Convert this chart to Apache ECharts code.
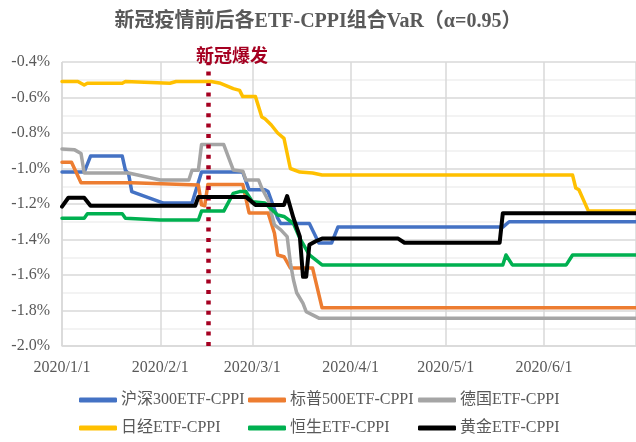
<!DOCTYPE html>
<html><head><meta charset="utf-8">
<script src="https://cdn.jsdelivr.net/npm/echarts@6/dist/echarts.min.js"></script>
<style>html,body{margin:0;padding:0;background:#fff}#c{width:636px;height:442px}</style>
</head><body><div id="c"></div>
<script>
// ---- data (VaR, %) ----
const titleText = '新冠疫情前后各ETF-CPPI组合VaR（α=0.95）';
const eventLabel = '新冠爆发';
const eventDate = '2020-02-16';
const names = ['沪深300ETF-CPPI', '标普500ETF-CPPI', '德国ETF-CPPI', '日经ETF-CPPI', '恒生ETF-CPPI', '黄金ETF-CPPI'];
const colors = ['#4472C4', '#ED7D31', '#A5A5A5', '#FFC000', '#00B050', '#000000'];
const xMin = '2020-01-01', xMax = '2020-06-30';
const yMin = -2.0, yMax = -0.4, yStep = 0.2;

const hs300 = [['2020-01-01', -1.02], ['2020-01-08', -1.02], ['2020-01-10', -0.93], ['2020-01-20', -0.93], ['2020-01-21', -1.01], ['2020-01-22', -1.03], ['2020-01-23', -1.13], ['2020-02-02', -1.195], ['2020-02-11', -1.195], ['2020-02-14', -1.02], ['2020-02-27', -1.02], ['2020-02-29', -1.12], ['2020-03-05', -1.12], ['2020-03-06', -1.13], ['2020-03-09', -1.28], ['2020-03-10', -1.31], ['2020-03-19', -1.31], ['2020-03-22', -1.42], ['2020-03-26', -1.42], ['2020-03-28', -1.33], ['2020-05-19', -1.33], ['2020-05-21', -1.30], ['2020-06-30', -1.30]];
const sp500 = [['2020-01-01', -0.965], ['2020-01-04', -0.965], ['2020-01-07', -1.08], ['2020-01-23', -1.08], ['2020-02-13', -1.093], ['2020-02-14', -1.205], ['2020-02-15', -1.21], ['2020-02-16', -1.09], ['2020-02-27', -1.09], ['2020-02-29', -1.25], ['2020-03-06', -1.25], ['2020-03-08', -1.365], ['2020-03-09', -1.487], ['2020-03-11', -1.497], ['2020-03-13', -1.56], ['2020-03-20', -1.56], ['2020-03-23', -1.785], ['2020-06-30', -1.785]];
const dax = [['2020-01-01', -0.89], ['2020-01-05', -0.895], ['2020-01-07', -0.915], ['2020-01-08', -1.025], ['2020-01-22', -1.025], ['2020-02-01', -1.065], ['2020-02-10', -1.065], ['2020-02-11', -1.01], ['2020-02-13', -1.01], ['2020-02-14', -0.865], ['2020-02-21', -0.865], ['2020-02-24', -1.008], ['2020-02-27', -1.015], ['2020-02-28', -1.065], ['2020-03-03', -1.065], ['2020-03-04', -1.11], ['2020-03-06', -1.178], ['2020-03-07', -1.25], ['2020-03-08', -1.318], ['2020-03-10', -1.346], ['2020-03-12', -1.384], ['2020-03-13', -1.53], ['2020-03-14', -1.628], ['2020-03-15', -1.70], ['2020-03-17', -1.76], ['2020-03-18', -1.807], ['2020-03-20', -1.825], ['2020-03-22', -1.843], ['2020-06-30', -1.843]];
const nikkei = [['2020-01-01', -0.51], ['2020-01-06', -0.51], ['2020-01-08', -0.53], ['2020-01-09', -0.52], ['2020-01-20', -0.52], ['2020-01-21', -0.51], ['2020-02-04', -0.52], ['2020-02-06', -0.51], ['2020-02-17', -0.51], ['2020-02-20', -0.52], ['2020-02-24', -0.55], ['2020-02-26', -0.56], ['2020-02-27', -0.595], ['2020-03-02', -0.595], ['2020-03-04', -0.71], ['2020-03-05', -0.72], ['2020-03-07', -0.755], ['2020-03-09', -0.80], ['2020-03-11', -0.83], ['2020-03-13', -1.00], ['2020-03-16', -1.02], ['2020-03-20', -1.025], ['2020-03-23', -1.037], ['2020-06-10', -1.037], ['2020-06-11', -1.11], ['2020-06-12', -1.12], ['2020-06-15', -1.24], ['2020-06-30', -1.24]];
const hsi = [['2020-01-01', -1.28], ['2020-01-08', -1.28], ['2020-01-09', -1.255], ['2020-01-20', -1.255], ['2020-01-21', -1.28], ['2020-02-01', -1.29], ['2020-02-13', -1.29], ['2020-02-14', -1.24], ['2020-02-21', -1.24], ['2020-02-24', -1.14], ['2020-02-26', -1.13], ['2020-02-28', -1.13], ['2020-03-01', -1.187], ['2020-03-05', -1.195], ['2020-03-09', -1.262], ['2020-03-11', -1.27], ['2020-03-14', -1.31], ['2020-03-16', -1.393], ['2020-03-19', -1.487], ['2020-03-23', -1.543], ['2020-05-19', -1.543], ['2020-05-20', -1.487], ['2020-05-22', -1.543], ['2020-06-08', -1.543], ['2020-06-10', -1.487], ['2020-06-30', -1.487]];
const gold = [['2020-01-01', -1.215], ['2020-01-03', -1.165], ['2020-01-08', -1.165], ['2020-01-10', -1.21], ['2020-02-12', -1.21], ['2020-02-13', -1.16], ['2020-02-28', -1.16], ['2020-03-02', -1.205], ['2020-03-11', -1.205], ['2020-03-12', -1.155], ['2020-03-14', -1.28], ['2020-03-16', -1.384], ['2020-03-17', -1.61], ['2020-03-18', -1.61], ['2020-03-19', -1.43], ['2020-03-21', -1.41], ['2020-03-23', -1.395], ['2020-04-16', -1.395], ['2020-04-18', -1.418], ['2020-05-18', -1.418], ['2020-05-19', -1.252], ['2020-06-30', -1.252]];
const seriesData = [hs300, sp500, dax, nikkei, hsi, gold];

// ---- chart ----
const FONT = '"Liberation Serif","Noto Sans CJK SC",serif';
const DAY = 86400000;
const TXT = '#595959';
const chart = echarts.init(document.getElementById('c'));

const legendPos = [[79, 392], [248, 392], [418, 392], [79, 420], [248, 420], [418, 420]];
const legends = names.map((n, i) => ({
  data: [n], left: legendPos[i][0], top: legendPos[i][1],
  icon: 'roundRect', itemWidth: 38, itemHeight: 5, itemGap: 0,
  textStyle: { fontFamily: FONT, fontSize: 16, color: TXT, padding: [0, 0, 0, -1] },
  padding: 0, selectedMode: false
}));

const series = names.map((n, i) => ({
  name: n, type: 'line', data: seriesData[i], symbol: 'none',
  color: colors[i],
  lineStyle: { width: i === 5 ? 4 : 3.5, color: colors[i], cap: 'round', join: 'round' },
  z: 2 + i, silent: true
}));
series[series.length - 1].markLine = {
  symbol: 'none', silent: true, animation: false,
  label: { show: false },
  lineStyle: { color: '#A50021', type: [4, 6.4], width: 4.5, cap: 'butt' },
  data: [{ xAxis: eventDate }]
};

chart.setOption({
  animation: false,
  backgroundColor: '#fff',
  title: [
    { text: titleText, left: 'center', top: 7,
      textStyle: { fontFamily: FONT, fontSize: 20, fontWeight: 'bold', color: TXT } },
    { text: eventLabel, left: 191, top: 43,
      textStyle: { fontFamily: FONT, fontSize: 18, fontWeight: 'bold', color: '#A50021' } }
  ],
  legend: legends,
  grid: { left: 62, top: 62, width: 579, bottom: 96, containLabel: false },
  xAxis: {
    type: 'time', min: xMin, max: xMax,
    minInterval: 28 * DAY, maxInterval: 31 * DAY, splitNumber: 6,
    axisLine: { show: true, lineStyle: { color: '#d9d9d9', width: 1.5 } },
    axisTick: { show: false },
    axisLabel: {
      color: TXT, fontFamily: FONT, fontSize: 16, margin: 14, hideOverlap: false,
      formatter: v => { const d = new Date(v); return d.getFullYear() + '/' + (d.getMonth() + 1) + '/' + d.getDate(); }
    },
    splitLine: { show: true, lineStyle: { color: '#d9d9d9', width: 1.5 } }
  },
  yAxis: {
    type: 'value', min: yMin, max: yMax, interval: yStep,
    axisLine: { show: false }, axisTick: { show: false },
    axisLabel: { color: TXT, fontFamily: FONT, fontSize: 16, margin: 12, formatter: v => v.toFixed(1) + '%' },
    splitLine: { show: true, lineStyle: { color: '#d9d9d9', width: 1.5 } },
    minorTick: { show: false, splitNumber: 2 },
    minorSplitLine: { show: true, lineStyle: { color: '#f0f0f0', width: 1.5 } }
  },
  series: series
});
</script></body></html>
